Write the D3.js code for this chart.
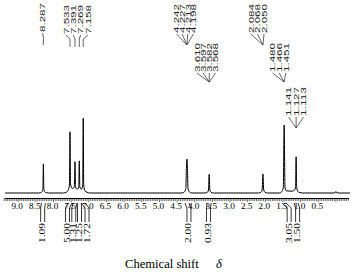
<!DOCTYPE html>
<html><head><meta charset="utf-8">
<script src="https://cdn.jsdelivr.net/npm/d3@7"></script>
<style>body{margin:0;background:#fff}svg{display:block}</style>
</head><body>
<script>
// ---------- data ----------
const spectrumPpm = [9.37,8.42,8.36,8.32,8.30,8.287,8.274,8.254,8.21,8.15,
  7.72,7.64,7.58,7.548,7.533,7.518,7.47,7.41,7.391,7.375,7.33,7.285,7.269,7.255,7.21,7.172,7.158,7.144,7.11,7.05,6.96,
  4.36,4.29,4.25,4.237,4.22,4.203,4.19,4.15,4.08,
  3.71,3.64,3.61,3.590,3.570,3.54,3.47,
  2.19,2.12,2.09,2.067,2.044,2.01,1.94,
  1.60,1.53,1.49,1.466,1.442,1.40,1.32,1.24,1.17,1.143,1.127,1.111,1.08,1.02,0.94,
  0.06,0.02,0.0,-0.02,-0.06,-0.40];
const spectrumInt = [0,0,0.5,2,6,39,6,2,0.5,0,
  0,1,4,12,82,12,6,8,42,8,5,8,43,8,5,11,100,11,3,1,0,
  0,1.5,6,30,45.5,30,6,1.5,0,
  0,1,4,25,4,1,0,
  0,1,4,25.5,4,1,0,
  0,2,7,91,7,3,2.5,2.5,4,8,48.5,8,2,0.5,0,
  0,0.5,2,0.5,0,0];
const tickValues = [9.0,8.5,8.0,7.5,7.0,6.5,6.0,5.5,5.0,4.5,4.0,3.5,3.0,2.5,2.0,1.5,1.0,0.5];
const peakGroups = [
  ["8.287"],
  ["7.533","7.391","7.269","7.158"],
  ["4.242","4.227","4.213","4.198"],
  ["3.610","3.597","3.582","3.568"],
  ["2.084","2.068","2.050"],
  ["1.480","1.466","1.451"],
  ["1.141","1.127","1.113"]
];
const integralValues = ["1.09","5.00","1.31","1.25","1.72","2.00","0.93","3.05","1.50"];
const integralCenters = [8.287,7.533,7.391,7.269,7.158,4.22,3.59,1.466,1.127];
const xTitle = "Chemical shift";
const xSymbol = "δ";

// ---------- layout ----------
const W = 353, H = 275;
const baseY = 193, axisY = 198.5;
const svg = d3.select("body").append("svg").attr("width", W).attr("height", H);

const x = d3.scaleLinear().domain([9.0, 0.5]).range([18.2, 318.25]);
const y = d3.scaleLinear().domain([0, 100]).range([baseY, 118.3]);

// spectrum
const pts = spectrumPpm.map((p, i) => [p, spectrumInt[i]]);
svg.append("path")
  .datum(pts)
  .attr("fill", "none").attr("stroke", "#000").attr("stroke-width", 1)
  .attr("d", d3.line().x(d => x(d[0])).y(d => y(d[1])).curve(d3.curveMonotoneX));

// axis
const axisStart = 9.38, axisEnd = -0.37;
svg.append("line").attr("x1", x(axisStart)).attr("x2", x(axisEnd))
  .attr("y1", axisY).attr("y2", axisY).attr("stroke", "#000").attr("stroke-width", 1);
const minor = d3.range(Math.round(axisStart * 20), Math.round(axisEnd * 20) - 1, -1).map(v => v / 20);
svg.append("g").selectAll("line").data(minor).join("line")
  .attr("x1", d => x(d)).attr("x2", d => x(d))
  .attr("y1", axisY).attr("y2", d => Math.abs(d * 2 - Math.round(d * 2)) < 1e-6 ? axisY + 3.5 : axisY + 2.5)
  .attr("stroke", "#000").attr("stroke-width", 0.6);
svg.append("g").selectAll("text").data(tickValues).join("text")
  .attr("x", d => x(d) - 1).attr("y", 209)
  .attr("text-anchor", "middle")
  .attr("font-family", "Liberation Serif, Times New Roman, serif")
  .attr("font-size", 9.2)
  .text(d => d.toFixed(1));

// rotated text helper
function rotText(cx, yBottom, str, size, len, family, capRatio, fill) {
  svg.append("text")
    .attr("transform", `translate(${cx + size * capRatio / 2},${yBottom}) rotate(-90)`)
    .attr("font-family", family).attr("font-size", size)
    .attr("fill", fill || "#000")
    .attr("textLength", len).attr("lengthAdjust", "spacingAndGlyphs")
    .text(str);
}
function seg(x1, y1, x2, y2, w, c) {
  svg.append("line").attr("x1", x1).attr("y1", y1).attr("x2", x2).attr("y2", y2)
    .attr("stroke", c || "#000").attr("stroke-width", w || 0.8);
}

// peak label layout
const groupLayout = [
  {bottom: 32, end: 45, spacing: 0, offset: -0.7, style: "elbow"},
  {bottom: 34, end: 47, spacing: 7.4, offset: 0, style: "elbow"},
  {bottom: 33, end: 45, spacing: 5.6, offset: -2, style: "fan"},
  {bottom: 72, end: 82, spacing: 6.2, offset: -3, style: "fan"},
  {bottom: 33, end: 45, spacing: 6.6, offset: -5.5, style: "fan"},
  {bottom: 72, end: 82, spacing: 6.6, offset: -5, style: "fan"},
  {bottom: 116, end: 128, spacing: 7.5, offset: 0, style: "fan"}
];
peakGroups.forEach((labels, gi) => {
  const L = groupLayout[gi];
  const px = labels.map(Number).map(p => x(p));
  const mean = d3.mean(px);
  const n = labels.length;
  labels.forEach((lab, i) => {
    const cx = mean + L.offset + (i - (n - 1) / 2) * L.spacing;
    rotText(cx, L.bottom, lab, 7.9, 29, "Liberation Sans, Arial, sans-serif", 0.716, "#222");
    if (L.style === "elbow") {
      seg(cx, L.bottom + 1, px[i], L.bottom + 5, 0.7, "#222");
      seg(px[i], L.bottom + 5, px[i], L.end, 0.7, "#222");
    } else {
      seg(cx, L.bottom + 1, mean, L.end, 0.7, "#222");
    }
  });
});

// integrals
const integralNudge = [-0.7, -2.5, -1.2, 0.2, 3.8, 2, -0.7, 5, 1.5];
integralValues.forEach((v, i) => {
  const px = x(integralCenters[i]);
  const lx = px + integralNudge[i];
  seg(px - 2, 203, lx - 2, 208, 0.8);
  seg(px + 2, 203, lx + 2, 208, 0.8);
  seg(lx - 2, 208, lx - 2, 222, 0.8);
  seg(lx + 2, 208, lx + 2, 222, 0.8);
  rotText(lx, 243, v, 7.5, 20, "Liberation Serif, Times New Roman, serif", 0.676);
});

// axis title
svg.append("text").attr("x", 125).attr("y", 267.5)
  .attr("font-family", "Liberation Serif, Times New Roman, serif").attr("font-size", 12.6)
  .text(xTitle);
svg.append("text").attr("x", 216).attr("y", 267.5)
  .attr("font-family", "Liberation Serif, Times New Roman, serif").attr("font-size", 12.6)
  .attr("font-style", "italic")
  .text(xSymbol);
</script>
</body></html>
